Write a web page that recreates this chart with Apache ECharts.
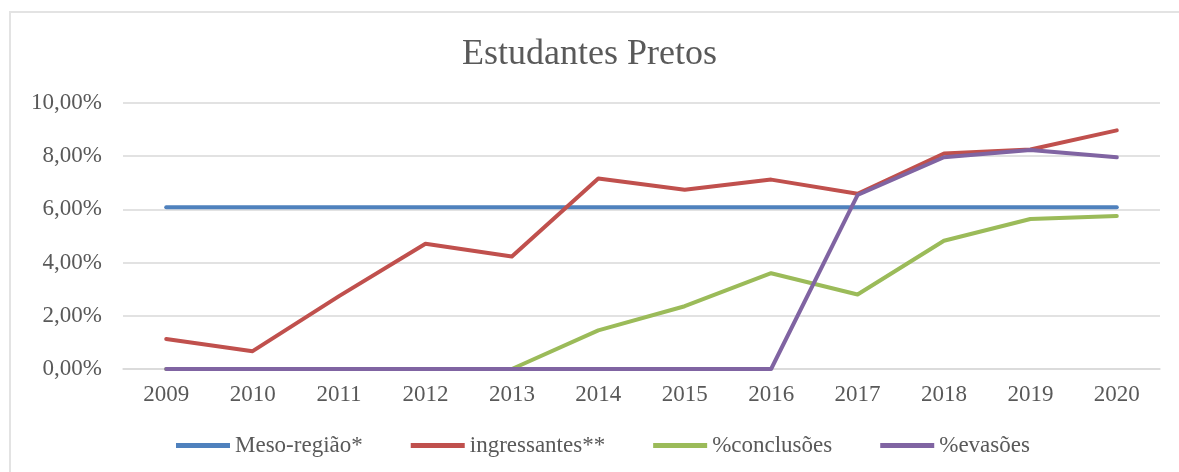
<!DOCTYPE html>
<html>
<head>
<meta charset="utf-8">
<script src="https://cdn.jsdelivr.net/npm/echarts@6/dist/echarts.min.js"></script>
<style>
html,body{margin:0;padding:0;background:#fff;overflow:hidden;}
#frame{position:absolute;left:9px;top:11px;width:1300px;height:600px;border-left:2px solid #e3e3e3;border-top:2px solid #e3e3e3;}
#chart{position:absolute;left:0;top:0;width:1179px;height:472px;}
</style>
</head>
<body>
<div id="frame"></div>
<div id="chart"></div>
<script>
const titleText = 'Estudantes Pretos';
const categories = ['2009','2010','2011','2012','2013','2014','2015','2016','2017','2018','2019','2020'];
const mesoRegiao = [6.08,6.08,6.08,6.08,6.08,6.08,6.08,6.08,6.08,6.08,6.08,6.08];
const ingressantes = [1.13,0.67,2.74,4.71,4.23,7.16,6.74,7.12,6.59,8.10,8.25,8.97];
const conclusoes = [0,0,0,0,0,1.45,2.36,3.60,2.80,4.82,5.64,5.75];
const evasoes = [0,0,0,0,0,0,0,0,6.54,7.96,8.23,7.96];
const seriesNames = ['Meso-região*','ingressantes**','%conclusões','%evasões'];
const colors = ['#4F81BD','#C0504D','#9BBB59','#8064A2'];

const font = '"Liberation Serif","Times New Roman",serif';
const chart = echarts.init(document.getElementById('chart'), null, {renderer:'canvas'});
const dataSets = [mesoRegiao, ingressantes, conclusoes, evasoes];
chart.setOption({
  animation:false,
  title:{text:titleText,left:'center',top:32,textStyle:{fontFamily:font,fontSize:36,fontWeight:'normal',color:'#595959'}},
  legend:{left:171,top:429,itemWidth:54,itemHeight:5,itemGap:48,icon:'rect',
    textStyle:{fontFamily:font,fontSize:23,color:'#595959'},
    data:seriesNames},
  grid:{left:123,right:19,top:103,bottom:103,containLabel:false},
  xAxis:{type:'category',data:categories,boundaryGap:true,
    axisLine:{show:true,lineStyle:{color:'#d9d9d9',width:1.5}},
    axisTick:{show:false},
    axisLabel:{fontFamily:font,fontSize:23,color:'#595959',margin:14}},
  yAxis:{type:'value',min:0,max:10,interval:2,
    axisLine:{show:false},axisTick:{show:false},
    splitLine:{lineStyle:{color:'#d9d9d9',width:1.5}},
    axisLabel:{fontFamily:font,fontSize:23,color:'#595959',margin:21,
      formatter:v=>v.toFixed(2).replace('.',',')+'%'}},
  series:dataSets.map((d,i)=>({
    name:seriesNames[i],type:'line',data:d,symbol:'none',
    lineStyle:{color:colors[i],width:4,cap:'round',join:'round'},
    itemStyle:{color:colors[i]}
  }))
});
</script>
</body>
</html>
